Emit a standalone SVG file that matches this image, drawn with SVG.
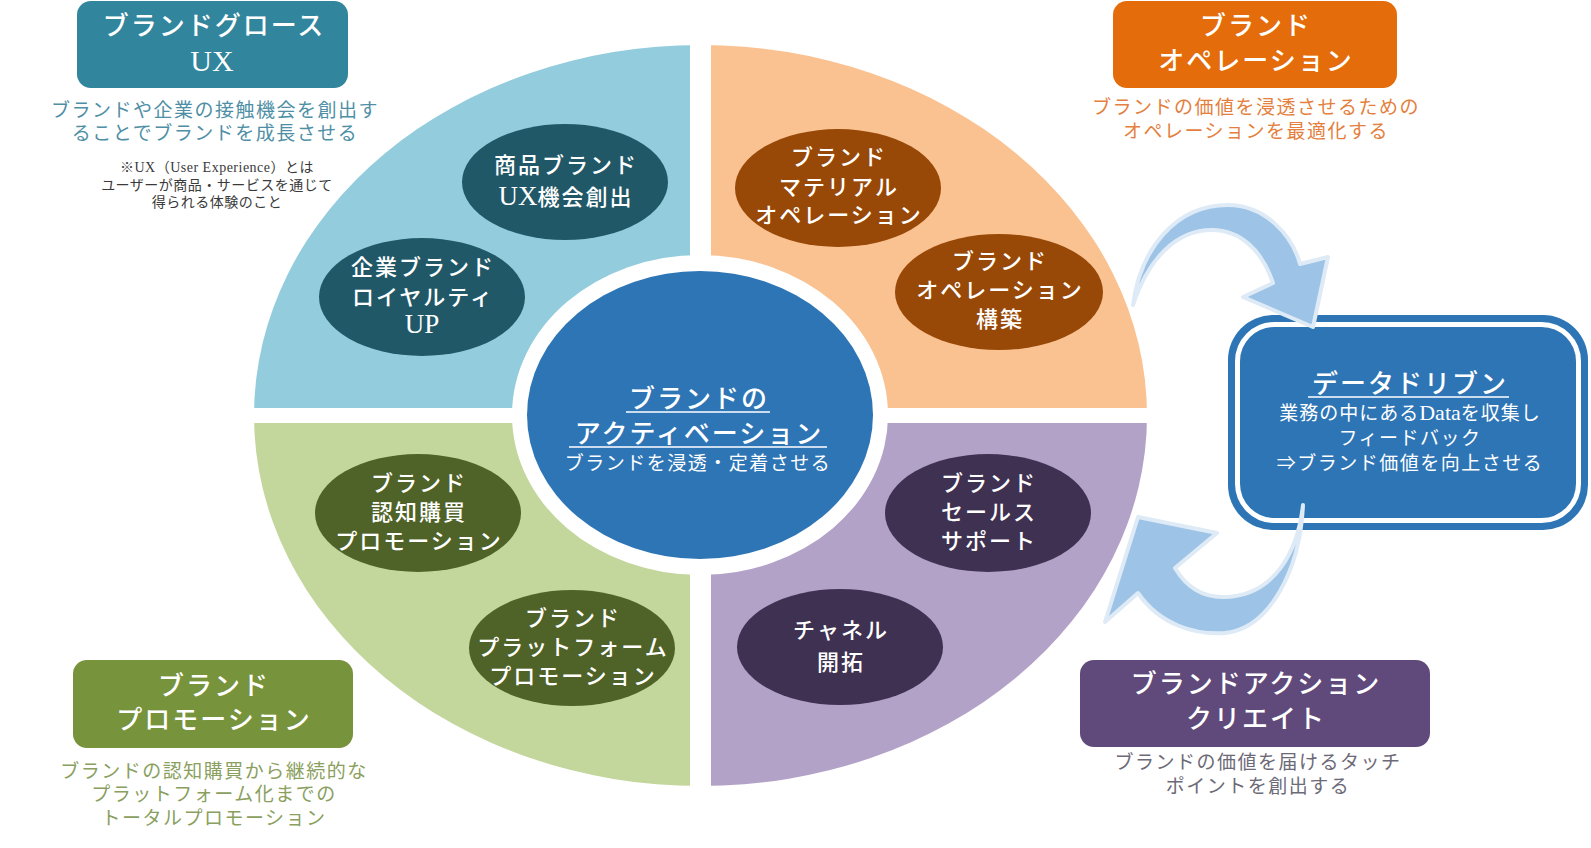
<svg xmlns="http://www.w3.org/2000/svg" width="1591" height="848" viewBox="0 0 1591 848">
<defs>
<style>
text{font-family:'Liberation Serif','Noto Sans CJK JP',serif;text-anchor:middle}
.title{font-size:26px;letter-spacing:2px;fill:#fff;font-weight:500}
.node{font-size:22px;letter-spacing:2px;fill:#fff;font-weight:500}
.sub{font-size:19px;letter-spacing:1.5px}
.note{font-size:14px;letter-spacing:0.5px;fill:#3a3a3a}
.lat{font-size:30px;letter-spacing:0}
.latn{font-size:27px;letter-spacing:0}
.arrow{fill:#9dc3e6;stroke:#deebf7;stroke-width:4;stroke-linejoin:round}
.ul{stroke:#fff;stroke-width:1.5}
</style>
<clipPath id="ring"><ellipse cx="700.5" cy="415.5" rx="446.5" ry="370.5"/></clipPath>
</defs>
<rect width="1591" height="848" fill="#fff"/>

<g id="quadrants" clip-path="url(#ring)">
<rect x="250" y="40" width="440" height="368" fill="#93cddd"/>
<rect x="711" y="40" width="440" height="368" fill="#fac191"/>
<rect x="250" y="423" width="440" height="368" fill="#c3d69b"/>
<rect x="711" y="423" width="440" height="368" fill="#b3a2c7"/>
</g>

<g id="center">
<ellipse cx="700" cy="415" rx="188" ry="160" fill="#fff"/>
<ellipse cx="700" cy="415" rx="173" ry="144" fill="#2e75b6"/>
<text class="title" x="699" y="408">ブランドの</text>
<line class="ul" x1="626" y1="412" x2="770" y2="412"/>
<text class="title" x="699" y="443">アクティベーション</text>
<line class="ul" x1="569" y1="447" x2="827" y2="447"/>
<text class="sub" x="698" y="470" fill="#fff">ブランドを浸透・定着させる</text>
</g>

<g id="n1">
<ellipse cx="565" cy="182" rx="103" ry="58" fill="#215868"/>
<text class="node" x="566" y="173">商品ブランド</text>
<text class="node" x="566" y="205"><tspan class="latn">UX</tspan>機会創出</text>
</g>
<g id="n2">
<ellipse cx="422" cy="297" rx="103" ry="59" fill="#215868"/>
<text class="node" x="423" y="275">企業ブランド</text>
<text class="node" x="423" y="305">ロイヤルティ</text>
<text class="node" x="422" y="333"><tspan class="latn">UP</tspan></text>
</g>
<g id="n3">
<ellipse cx="838" cy="188" rx="103" ry="59" fill="#984807"/>
<text class="node" x="839" y="165">ブランド</text>
<text class="node" x="839" y="195">マテリアル</text>
<text class="node" x="839" y="223">オペレーション</text>
</g>
<g id="n4">
<ellipse cx="999" cy="292" rx="104" ry="58" fill="#984807"/>
<text class="node" x="1000" y="269">ブランド</text>
<text class="node" x="1000" y="298">オペレーション</text>
<text class="node" x="1000" y="327">構築</text>
</g>
<g id="n5">
<ellipse cx="418" cy="513" rx="103" ry="59" fill="#4f6228"/>
<text class="node" x="419" y="491">ブランド</text>
<text class="node" x="419" y="520">認知購買</text>
<text class="node" x="419" y="549">プロモーション</text>
</g>
<g id="n6">
<ellipse cx="572" cy="648" rx="103" ry="58" fill="#4f6228"/>
<text class="node" x="573" y="626">ブランド</text>
<text class="node" x="573" y="655">プラットフォーム</text>
<text class="node" x="573" y="684">プロモーション</text>
</g>
<g id="n7">
<ellipse cx="988" cy="513" rx="103" ry="59" fill="#3f3151"/>
<text class="node" x="989" y="491">ブランド</text>
<text class="node" x="989" y="520">セールス</text>
<text class="node" x="989" y="549">サポート</text>
</g>
<g id="n8">
<ellipse cx="840" cy="647" rx="103" ry="58" fill="#3f3151"/>
<text class="node" x="841" y="638">チャネル</text>
<text class="node" x="841" y="670">開拓</text>
</g>

<g id="label-ux">
<rect x="77" y="1" width="271" height="87" rx="14" fill="#31859c"/>
<text class="title" x="214" y="35">ブランドグロース</text>
<text class="title" x="212" y="71"><tspan class="lat">UX</tspan></text>
<text class="sub" x="215" y="117" fill="#4f8fa5">ブランドや企業の接触機会を創出す</text>
<text class="sub" x="215" y="140" fill="#4f8fa5">ることでブランドを成長させる</text>
<text class="note" x="217" y="172">※UX（User Experience）とは</text>
<text class="note" x="217" y="190">ユーザーが商品・サービスを通じて</text>
<text class="note" x="217" y="207">得られる体験のこと</text>
</g>

<g id="label-operation">
<rect x="1113" y="1" width="284" height="87" rx="14" fill="#e46c0a"/>
<text class="title" x="1256" y="35">ブランド</text>
<text class="title" x="1256" y="70">オペレーション</text>
<text class="sub" x="1256" y="114" fill="#e47f3e">ブランドの価値を浸透させるための</text>
<text class="sub" x="1256" y="138" fill="#e47f3e">オペレーションを最適化する</text>
</g>

<g id="label-promotion">
<rect x="73" y="660" width="280" height="88" rx="14" fill="#77933c"/>
<text class="title" x="214" y="695">ブランド</text>
<text class="title" x="214" y="729">プロモーション</text>
<text class="sub" x="214" y="778" fill="#8aa05e">ブランドの認知購買から継続的な</text>
<text class="sub" x="214" y="801" fill="#8aa05e">プラットフォーム化までの</text>
<text class="sub" x="214" y="825" fill="#8aa05e">トータルプロモーション</text>
</g>

<g id="label-action">
<rect x="1080" y="660" width="350" height="87" rx="14" fill="#604a7b"/>
<text class="title" x="1256" y="693">ブランドアクション</text>
<text class="title" x="1256" y="728">クリエイト</text>
<text class="sub" x="1258" y="769" fill="#6d6a78">ブランドの価値を届けるタッチ</text>
<text class="sub" x="1258" y="793" fill="#6d6a78">ポイントを創出する</text>
</g>

<g id="datadriven">
<rect x="1228" y="315" width="360" height="215" rx="45" fill="#2e75b6"/>
<rect x="1237.5" y="324.5" width="341" height="196" rx="37" fill="none" stroke="#fff" stroke-width="5"/>
<text class="title" x="1410" y="393">データドリブン</text>
<line class="ul" x1="1308" y1="397" x2="1509" y2="397"/>
<text class="sub" x="1410" y="420" fill="#fff" style="letter-spacing:1px">業務の中にある<tspan style="font-size:22px;letter-spacing:0">Data</tspan>を収集し</text>
<text class="sub" x="1410" y="445" fill="#fff">フィードバック</text>
<text class="sub" x="1410" y="470" fill="#fff">⇒ブランド価値を向上させる</text>
</g>

<g id="connectors">
<path class="arrow" d="M 1133 305 C 1140 250, 1175 205, 1228 205 C 1265 205, 1292 235, 1300 264 L 1328 257 L 1313 327 L 1243 297 L 1273 283 C 1262 250, 1240 230, 1212 230 C 1175 230, 1148 260, 1133 305 Z"/>
<path class="arrow" d="M 1303 505 C 1298 550, 1275 597, 1223 597 C 1200 597, 1185 585, 1175 568 L 1217 533 L 1138 517 L 1105 622 L 1138 593 C 1160 625, 1195 635, 1225 633 C 1270 628, 1300 570, 1303 505 Z"/>
</g>
</svg>
